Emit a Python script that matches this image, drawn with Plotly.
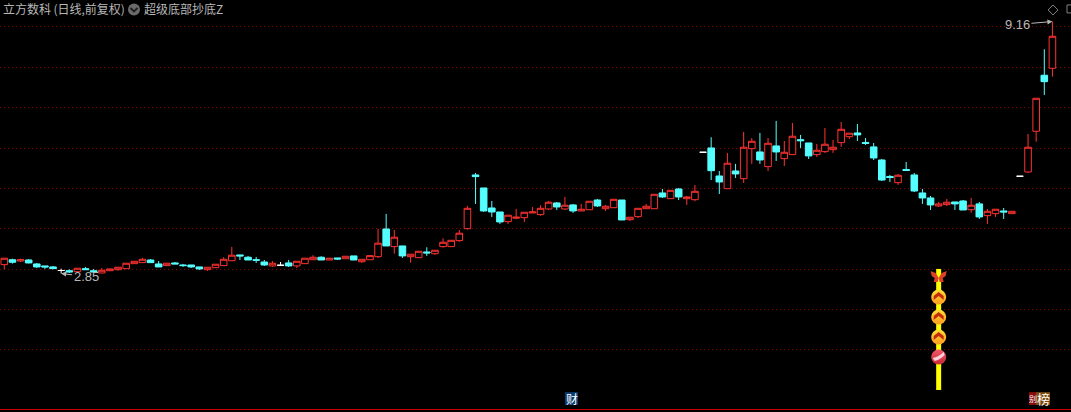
import math
import plotly.graph_objects as go

# Daily candles (index 0 = oldest)
open_px = [
 2.969,3.038,3.020,3.034,2.979,2.952,2.938,2.890,2.887,2.874,
 2.915,2.887,2.857,2.887,2.901,2.915,2.983,2.997,3.034,2.979,
 2.956,2.993,2.965,2.965,2.938,2.901,2.928,2.956,3.024,3.106,
 3.073,3.038,3.006,2.952,2.961,2.993,2.952,2.983,3.038,3.073,
 3.034,3.063,3.052,3.092,3.010,3.038,3.081,3.503,3.228,3.238,
 3.081,3.067,3.149,3.124,3.228,3.228,3.319,3.508,4.499,4.236,
 3.861,3.790,3.624,3.682,3.692,3.773,3.744,3.843,3.952,3.843,
 3.916,3.808,3.830,4.006,3.848,3.866,4.006,3.657,3.709,3.848,
 3.848,4.139,4.031,4.216,4.031,4.012,4.998,5.099,4.478,4.222,
 4.583,4.422,5.082,5.005,4.676,5.147,4.852,4.944,5.298,5.218,
 4.944,5.012,5.058,5.225,5.372,5.466,5.230,5.123,4.822,4.468,
 4.341,4.615,4.499,4.139,4.044,3.897,3.921,3.970,3.988,3.830,
 3.934,3.726,3.761,3.808,3.761,4.472,4.562,5.508,7.141,7.376]
high_px = [
 3.059,3.052,3.052,3.048,2.993,2.952,2.952,2.915,2.907,2.920,
 2.938,2.911,2.924,2.911,2.934,2.989,3.016,3.063,3.048,3.020,
 2.989,3.006,2.979,2.965,2.938,2.934,2.975,3.073,3.223,3.106,
 3.092,3.077,3.034,3.020,3.006,3.034,3.016,3.059,3.102,3.087,
 3.059,3.063,3.087,3.092,3.044,3.096,3.503,3.756,3.487,3.238,
 3.116,3.159,3.218,3.174,3.356,3.324,3.487,3.897,4.541,4.236,
 3.988,3.790,3.734,3.843,3.785,3.879,3.910,3.988,3.970,4.063,
 3.934,3.934,3.983,4.025,3.916,4.019,4.006,3.699,3.855,3.934,
 4.114,4.216,4.190,4.236,4.082,4.296,4.998,5.358,4.583,4.982,
 4.735,5.491,5.340,5.466,5.340,5.778,5.266,5.725,5.416,5.218,
 5.194,5.594,5.290,5.751,5.459,5.699,5.340,5.218,4.845,4.499,
 4.520,4.778,4.541,4.216,4.082,3.970,4.025,3.970,4.006,4.044,
 3.970,3.843,3.838,3.861,3.802,4.472,5.441,6.418,8.054,9.160]
low_px = [
 2.907,2.983,3.006,2.986,2.924,2.911,2.907,2.850,2.857,2.870,
 2.897,2.857,2.855,2.883,2.887,2.915,2.983,2.997,2.997,2.938,
 2.956,2.979,2.938,2.924,2.897,2.883,2.928,2.956,3.024,3.034,
 3.034,2.993,2.952,2.938,2.956,2.938,2.924,2.983,3.038,3.034,
 3.034,3.034,3.052,3.034,2.993,3.038,3.063,3.238,3.124,3.063,
 2.997,3.067,3.092,3.106,3.213,3.228,3.299,3.492,3.934,3.790,
 3.704,3.586,3.586,3.664,3.619,3.773,3.726,3.825,3.825,3.825,
 3.773,3.808,3.830,3.879,3.808,3.866,3.652,3.635,3.687,3.848,
 3.848,4.044,4.031,4.006,3.916,3.983,4.998,4.395,4.120,4.222,
 4.437,4.335,4.735,4.735,4.583,4.800,4.691,4.944,5.099,4.845,
 4.891,4.982,4.982,5.123,5.315,5.266,5.171,4.822,4.375,4.355,
 4.296,4.583,4.158,3.934,3.825,3.879,3.897,3.825,3.825,3.778,
 3.669,3.586,3.704,3.669,3.761,4.472,4.541,5.249,6.518,7.095]
close_px = [
 3.059,3.002,3.038,2.993,2.938,2.938,2.915,2.890,2.870,2.920,
 2.901,2.870,2.893,2.911,2.934,2.989,3.016,3.044,2.997,2.938,
 2.989,2.979,2.956,2.938,2.911,2.934,2.975,3.044,3.102,3.092,
 3.034,3.030,2.965,2.989,2.961,2.952,3.016,3.059,3.073,3.034,
 3.059,3.048,3.087,3.034,3.044,3.096,3.280,3.238,3.372,3.092,
 3.116,3.159,3.135,3.174,3.294,3.324,3.435,3.855,4.464,3.808,
 3.790,3.619,3.734,3.699,3.785,3.790,3.855,3.965,3.879,3.910,
 3.808,3.838,3.983,3.897,3.892,4.019,3.652,3.699,3.855,3.892,
 4.114,4.063,4.190,4.063,4.063,4.171,4.998,4.589,4.355,4.750,
 4.520,5.116,5.259,4.822,5.211,5.005,4.998,5.383,5.273,4.914,
 5.044,5.187,5.116,5.559,5.459,5.416,5.206,4.868,4.395,4.447,
 4.493,4.594,4.177,4.044,3.916,3.934,3.965,3.934,3.825,3.910,
 3.704,3.802,3.838,3.790,3.802,4.472,5.116,6.418,6.931,8.555]

grid_prices = [8.951, 7.403, 6.150, 5.0856, 4.226, 3.511, 2.904, 2.413, 2.004]
low_label, high_label = 2.85, 9.16
low_day, high_day = 7, 129

signal_day = 115
signal_top, signal_bottom = 2.911, 1.661
butterfly_price = 2.804
chevron_prices = [2.556, 2.330, 2.124]
ball_price = 1.936

title_main = "立方数科\u2009(日线,前复权)"
title_indicator = "超级底部抄底Z"
marker_cai = "财"
marker_bang = ("别", "榜")

RED, CYAN, WHITE, GREY = "#ff3232", "#54ffff", "#ffffff", "#b8b8b8"
W, H = 1071, 412

days = list(range(len(open_px)))
moving = [d for d in days if open_px[d] != close_px[d]]
flat = [d for d in days if open_px[d] == close_px[d]]
pick = lambda arr, idx: [arr[i] for i in idx]

fig = go.Figure()
fig.add_trace(go.Candlestick(
    x=moving, open=pick(open_px, moving), high=pick(high_px, moving),
    low=pick(low_px, moving), close=pick(close_px, moving),
    whiskerwidth=0, hoverinfo="skip", showlegend=False,
    increasing=dict(line=dict(color=RED, width=1), fillcolor="#000000"),
    decreasing=dict(line=dict(color=CYAN, width=1), fillcolor=CYAN)))
fig.add_trace(go.Candlestick(
    x=flat, open=pick(open_px, flat), high=pick(high_px, flat),
    low=pick(low_px, flat), close=pick(close_px, flat),
    whiskerwidth=0, hoverinfo="skip", showlegend=False,
    increasing=dict(line=dict(color=WHITE, width=1), fillcolor=WHITE),
    decreasing=dict(line=dict(color=WHITE, width=1), fillcolor=WHITE)))

# Signal column with its markers
fig.add_trace(go.Scatter(x=[signal_day, signal_day], y=[signal_top, signal_bottom],
                         mode="lines", line=dict(color="#ffff00", width=5),
                         hoverinfo="skip", showlegend=False))
fig.add_trace(go.Scatter(x=[signal_day] * len(chevron_prices), y=chevron_prices, mode="markers",
                         marker=dict(symbol="circle", size=15, color="#ffe030",
                                     gradient=dict(type="vertical", color="#ff9a20"),
                                     line=dict(width=0)),
                         hoverinfo="skip", showlegend=False))
fig.add_trace(go.Scatter(x=[signal_day], y=[ball_price], mode="markers",
                         marker=dict(symbol="circle", size=15, color="#f05868",
                                     gradient=dict(type="vertical", color="#c82838"),
                                     line=dict(width=0)),
                         hoverinfo="skip", showlegend=False))

def px_shape(price, path, fill):
    return dict(type="path", xref="x", yref="y", xsizemode="pixel", ysizemode="pixel",
                xanchor=signal_day, yanchor=price, path=path,
                fillcolor=fill, line=dict(width=0))

shapes = [px_shape(p, "M -5,1 L 0,5 L 5,1 L 5,-3 L 0,1 L -5,-3 Z", "#c42a10") for p in chevron_prices]
shapes.append(px_shape(ball_price, "M -6,-1 Q 0,0 5,5 L 6,2 Q 1,-3 -4,-4 Z", "#f8d0d8"))
shapes.append(px_shape(butterfly_price,
    "M 0,-1 L -3,4 L -8,6 L -7,1 L -4,-1 L -5,-5 L -1,-5 Z "
    "M 0,-1 L 3,4 L 8,6 L 7,1 L 4,-1 L 5,-5 L 1,-5 Z", "#dc4028"))
# Window furniture
shapes.append(dict(type="circle", xref="paper", yref="paper",
                   x0=128/W, x1=140/W, y0=1-15.5/H, y1=1-3.5/H,
                   fillcolor="#6a6a6a", line=dict(width=0)))
shapes.append(dict(type="path", xref="paper", yref="paper",
                   path=f"M {130.5/W},{1-8/H} L {134/W},{1-11.5/H} L {137.5/W},{1-8/H}",
                   line=dict(color="#202020", width=2)))
shapes.append(dict(type="path", xref="paper", yref="paper",
                   path=f"M {1053/W},{1-5/H} L {1058/W},{1-10/H} L {1053/W},{1-15/H} L {1048/W},{1-10/H} Z",
                   line=dict(color="#808080", width=1)))
shapes.append(dict(type="rect", xref="paper", yref="paper",
                   x0=1067/W, x1=1075/W, y0=1-13/H, y1=1-5/H,
                   line=dict(color="#808080", width=1)))
# Backgrounds of the two small tags on the bottom edge
for x0, x1, fill in [(565, 578, "#0c3a6e"), (1029, 1036, "#8a0c0c"), (1036, 1050, "#7a4a10")]:
    shapes.append(dict(type="rect", xref="paper", yref="paper", x0=x0/W, x1=x1/W,
                       y0=1-408/H, y1=1-395/H, fillcolor=fill, line=dict(width=0)))

font = "Noto Sans CJK SC"
anns = [
    dict(xref="paper", yref="paper", x=1/W, y=1-9/H, xanchor="left", yanchor="middle",
         text=title_main, showarrow=False, font=dict(family=font, size=12, color=GREY)),
    dict(xref="paper", yref="paper", x=142/W, y=1-9/H, xanchor="left", yanchor="middle",
         text=title_indicator, showarrow=False, font=dict(family=font, size=12, color=GREY)),
    dict(xref="x", yref="y", x=low_day, y=math.log10(low_label), text=f"{low_label:.2f}",
         showarrow=True, arrowhead=2, arrowsize=1, arrowwidth=1, arrowcolor=GREY, ax=25, ay=3,
         font=dict(family="Liberation Sans", size=13, color=GREY)),
    dict(xref="x", yref="y", x=high_day, y=math.log10(high_label), text=f"{high_label:.2f}",
         showarrow=True, arrowhead=2, arrowsize=1, arrowwidth=1, arrowcolor=GREY, ax=-35, ay=3,
         font=dict(family="Liberation Sans", size=13, color=GREY)),
    dict(xref="paper", yref="paper", x=571.5/W, y=1-401.5/H, xanchor="center", yanchor="middle",
         text=marker_cai, showarrow=False, font=dict(family=font, size=12, color=WHITE)),
    dict(xref="paper", yref="paper", x=1032.5/W, y=1-401.5/H, xanchor="center", yanchor="middle",
         text=marker_bang[0], showarrow=False, font=dict(family=font, size=8, color=WHITE)),
    dict(xref="paper", yref="paper", x=1043/W, y=1-401.5/H, xanchor="center", yanchor="middle",
         text=marker_bang[1], showarrow=False, font=dict(family=font, size=13, color=WHITE)),
]

pitch = 8.125
fig.update_layout(
    width=W, height=H, margin=dict(l=0, r=0, t=0, b=3),
    paper_bgcolor="#000000", plot_bgcolor="#000000",
    boxgap=0.1, boxgroupgap=0.1, showlegend=False,
    shapes=shapes, annotations=anns,
    xaxis=dict(range=[-4.3/pitch, (W-4.3)/pitch], showgrid=False, zeroline=False,
               showticklabels=False, ticks="", rangeslider=dict(visible=False),
               showline=True, linecolor="#c80000", linewidth=1, fixedrange=True),
    yaxis=dict(type="log", range=[0.18220, 1.00515], showticklabels=False, ticks="",
               tickmode="array", tickvals=grid_prices, showgrid=True,
               gridcolor="#8a0000", griddash="1px,3px", gridwidth=1,
               zeroline=False, showline=False, fixedrange=True),
)
fig.write_html("out.html", config=dict(displayModeBar=False),
               post_script="document.body.style.margin='0';document.body.style.background='#000';")
